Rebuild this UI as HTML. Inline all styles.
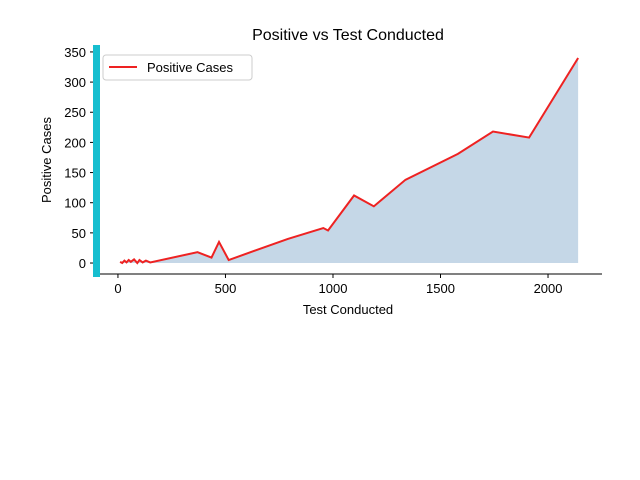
<!DOCTYPE html>
<html><head><meta charset="utf-8"><style>body{margin:0;background:#fff}svg{display:block;font-family:"Liberation Sans","DejaVu Sans",sans-serif}</style></head>
<body>
<svg id="chart" width="640" height="480">
<text x="348" y="40" font-size="16" text-anchor="middle">Positive vs Test Conducted</text>
<g id="plot"></g>
</svg>
<script>
const tests=[10,20,30,40,50,60,75,90,100,115,130,150,370,435,470,515,790,955,977,1098,1190,1337,1581,1744,1912,2140];
const positives=[2,0,4,1,5,2,6,0,5,1,4,1,18,9,35,5,40,58,54,112,94,138,181,218,208,340];
const xTicks=[0,500,1000,1500,2000];
const yTicks=[0,50,100,150,200,250,300,350];
const X0=93,X1=602,Y0=45,Y1=274;
const xmin=-116,xmax=2251,ymin=-18.2,ymax=361.5;
const sx=v=>X0+(v-xmin)/(xmax-xmin)*(X1-X0);
const sy=v=>Y1-(v-ymin)/(ymax-ymin)*(Y1-Y0);
const NS="http://www.w3.org/2000/svg";
const g=document.getElementById('plot');
function mk(t,a){const e=document.createElementNS(NS,t);for(const k in a)e.setAttribute(k,a[k]);g.appendChild(e);return e;}
let pts=tests.map((t,i)=>sx(t)+','+sy(positives[i]));
let area=mk('polygon',{points:sx(tests[0])+','+sy(0)+' '+pts.join(' ')+' '+sx(tests[tests.length-1])+','+sy(0),fill:'#c5d7e7'});


let line=mk('polyline',{points:pts.join(' '),fill:'none',stroke:'#ee2222','stroke-width':2,'stroke-linejoin':'miter'});


let sp=mk('line',{x1:X0,x2:X1,y1:Y1,y2:Y1,stroke:'#000','stroke-width':1});


let ls=mk('rect',{x:X0,y:Y0,width:7,height:Y1-Y0+3,fill:'#17becf'});


xTicks.forEach(v=>{const x=sx(v);
 mk('line',{x1:x,x2:x,y1:Y1,y2:Y1+4,stroke:'#000'});
 const t=mk('text',{x:x,y:Y1+19,'font-size':13,'text-anchor':'middle'});t.textContent=v;
 
 });
yTicks.forEach(v=>{const y=sy(v);
 mk('line',{x1:X0-3,x2:X0,y1:y,y2:y,stroke:'#000'});
 const t=mk('text',{x:X0-7,y:y+5,'font-size':13,'text-anchor':'end'});t.textContent=v;
 
 });
let xl=mk('text',{x:348,y:314,'font-size':13,'text-anchor':'middle'});xl.textContent='Test Conducted';


let yl=mk('text',{x:51,y:160,'font-size':13,'text-anchor':'middle',transform:'rotate(-90 51 160)'});yl.textContent='Positive Cases';


let lg=mk('rect',{x:103,y:55,width:149,height:25,rx:3,fill:'#fff',stroke:'#ccc'});


mk('line',{x1:109,x2:137,y1:67,y2:67,stroke:'#ee2222','stroke-width':2});
let lt=mk('text',{x:147,y:72,'font-size':13});lt.textContent='Positive Cases';


</script>
</body></html>
